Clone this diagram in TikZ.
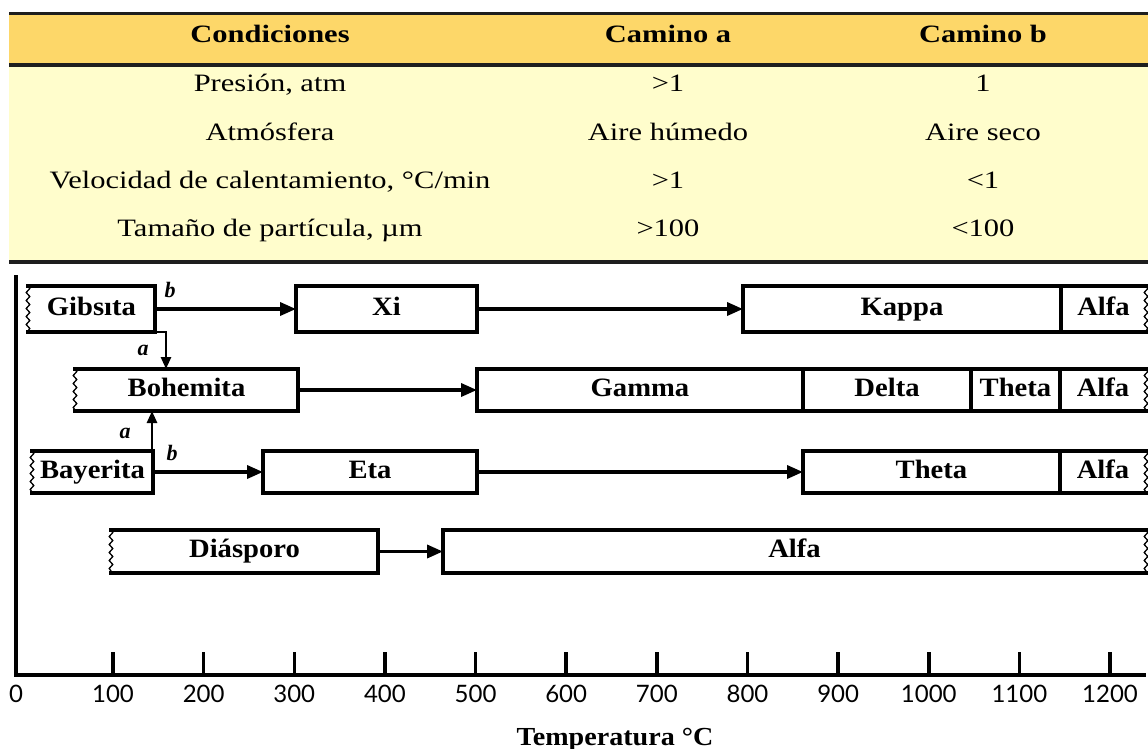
\documentclass[tikz,border=0pt]{standalone}
\usepackage{fontspec}
\setmainfont{Liberation Serif}
\newfontfamily\tabfont[FakeStretch=1.22]{Liberation Serif}
\newfontfamily\boxfont[FakeStretch=1.08]{Liberation Serif}
\newfontfamily\tickfont{Lato}
\usetikzlibrary{arrows.meta,decorations.pathmorphing}
\definecolor{hdr}{RGB}{253,215,105}
\definecolor{bdy}{RGB}{255,253,204}
\definecolor{rule}{RGB}{30,30,30}

\newcommand\fullbox[6]{%
  \node[phase,draw,minimum width={#4pt-#2pt},minimum height={#5pt-#3pt}] (#1) at ({(#2+#4)/2},{(#3+#5)/2}) {#6};}
\newcommand\jagleft[6]{%
  \node[phase,minimum width={#4pt-#2pt},minimum height={#5pt-#3pt}] (#1) at ({(#2+#4)/2},{(#3+#5)/2}) {#6};
  \draw[edge] (#1.south west) -- (#1.south east) -- (#1.north east) -- (#1.north west);
  \draw[jag] (#1.north west) -- (#1.south west);}
\newcommand\jagright[6]{%
  \node[phase,minimum width={#4pt-#2pt},minimum height={#5pt-#3pt}] (#1) at ({(#2+#4)/2},{(#3+#5)/2}) {#6};
  \draw[edge] (#1.north east) -- (#1.north west) -- (#1.south west) -- (#1.south east);
  \draw[jag] (#1.north east) -- (#1.south east);}

\begin{document}
\begin{tikzpicture}[x=1pt,y=-1pt,
  tabtxt/.style={font=\tabfont\fontsize{25}{30}\selectfont,inner sep=0pt,anchor=base},
  tabhdr/.style={font=\tabfont\bfseries\fontsize{25}{30}\selectfont,inner sep=0pt,anchor=base},
  phase/.style={line width=3.5pt,inner sep=0pt,outer sep=0pt,
    font=\boxfont\bfseries\fontsize{26.5}{30}\selectfont,text height=17pt,text depth=5pt},
  edge/.style={line width=3.5pt,line cap=rect,line join=miter},
  jag/.style={line width=1.3pt,decorate,decoration={snake,amplitude=1.8pt,segment length=8pt}},
  arr/.style={line width=3.5pt,-{Triangle[length=16pt,width=13pt]}},
  varr/.style={line width=2.6pt,-{Triangle[length=12pt,width=10pt]}},
  axisline/.style={line width=4pt},
  tickline/.style={line width=3.5pt},
  ticklbl/.style={font=\tickfont\fontsize{24}{28}\selectfont,inner sep=0pt,anchor=base},
  pathlbl/.style={font=\bfseries\itshape\fontsize{22}{24}\selectfont,inner sep=0pt}]
\useasboundingbox (0,0) rectangle (1148,749);

% ---------- table ----------
\fill[hdr] (9,14) rectangle (1148,65);
\fill[bdy] (9,65) rectangle (1148,262);
\draw[rule,line width=3pt] (9,14) -- (1148,14);
\draw[rule,line width=3.5pt] (9,65) -- (1148,65);
\draw[rule,line width=3.5pt] (9,262) -- (1148,262);

\node[tabhdr] (h1) at (270,43) {Condiciones};
\node[tabhdr] (h2) at (668,43) {Camino a};
\node[tabhdr] (h3) at (983,43) {Camino b};

\node[tabtxt] (r1c1) at (270,92) {Presión, atm};
\node[tabtxt] (r1c2) at (668,92) {>1};
\node[tabtxt] (r1c3) at (983,92) {1};
\node[tabtxt] (r2c1) at (270,140) {Atmósfera};
\node[tabtxt] (r2c2) at (668,140) {Aire húmedo};
\node[tabtxt] (r2c3) at (983,140) {Aire seco};
\node[tabtxt] (r3c1) at (270,188) {Velocidad de calentamiento, °C/min};
\node[tabtxt] (r3c2) at (668,188) {>1};
\node[tabtxt] (r3c3) at (983,188) {<1};
\node[tabtxt] (r4c1) at (270,236) {Tamaño de partícula, µm};
\node[tabtxt] (r4c2) at (668,236) {>100};
\node[tabtxt] (r4c3) at (983,236) {<100};

% ---------- axes ----------
\draw[axisline] (16,275) -- (16,675) -- (1146,675);
\foreach \k in {1,...,12}{
  \draw[tickline] ({113+90.64*(\k-1)},652) -- ({113+90.64*(\k-1)},675);
  \node[ticklbl] (t\k) at ({113+90.64*(\k-1)},702) {\k00};
}
\node[ticklbl] (t0) at (16,702) {0};
\node[font=\boxfont\bfseries\fontsize{26}{30}\selectfont,inner sep=0pt,anchor=base] (xlab) at (615,745) {Temperatura °C};

% ---------- row 1 ----------
\jagleft{gib}{28}{286}{155}{332}{Gibsıta}
\fullbox{xi}{296}{286}{477}{332}{Xi}
\fullbox{kap}{743}{286}{1061}{332}{Kappa}
\jagright{alf1}{1061}{286}{1146}{332}{Alfa}

% ---------- row 2 ----------
\jagleft{boh}{75}{369}{298}{411}{Bohemita}
\fullbox{gam}{477}{369}{803}{411}{Gamma}
\fullbox{del}{803}{369}{971}{411}{Delta}
\fullbox{the2}{971}{369}{1060}{411}{Theta}
\jagright{alf2}{1060}{369}{1146}{411}{Alfa}

% ---------- row 3 ----------
\jagleft{bay}{32}{451}{153}{493}{Bayerita}
\fullbox{eta}{263}{451}{477}{493}{Eta}
\fullbox{the3}{803}{451}{1060}{493}{Theta}
\jagright{alf3}{1060}{451}{1146}{493}{Alfa}

% ---------- row 4 ----------
\jagleft{dia}{111}{530}{378}{573}{Diásporo}
\jagright{alf4}{443}{530}{1146}{573}{Alfa}

% ---------- arrows ----------
\draw[arr] (gib.east) -- (xi.west);
\draw[arr] (xi.east) -- (kap.west);
\draw[arr] (boh.east) -- (gam.west);
\draw[arr] (bay.east) -- (eta.west);
\draw[arr] (eta.east) -- (the3.west);
\draw[arr] (dia.east) -- (alf4.west);

\coordinate (gbend) at (166,332);
\draw[varr] (gib.south east) -- (gbend) -- (gbend |- boh.north);
\coordinate (bup) at (152,451);
\draw[varr] (bup) -- (bup |- boh.south);

\node[pathlbl] (lb1) at (170,290) {b};
\node[pathlbl] (la1) at (143,350) {a};
\node[pathlbl] (la2) at (125,433) {a};
\node[pathlbl] (lb2) at (172,453) {b};
\end{tikzpicture}
\end{document}
